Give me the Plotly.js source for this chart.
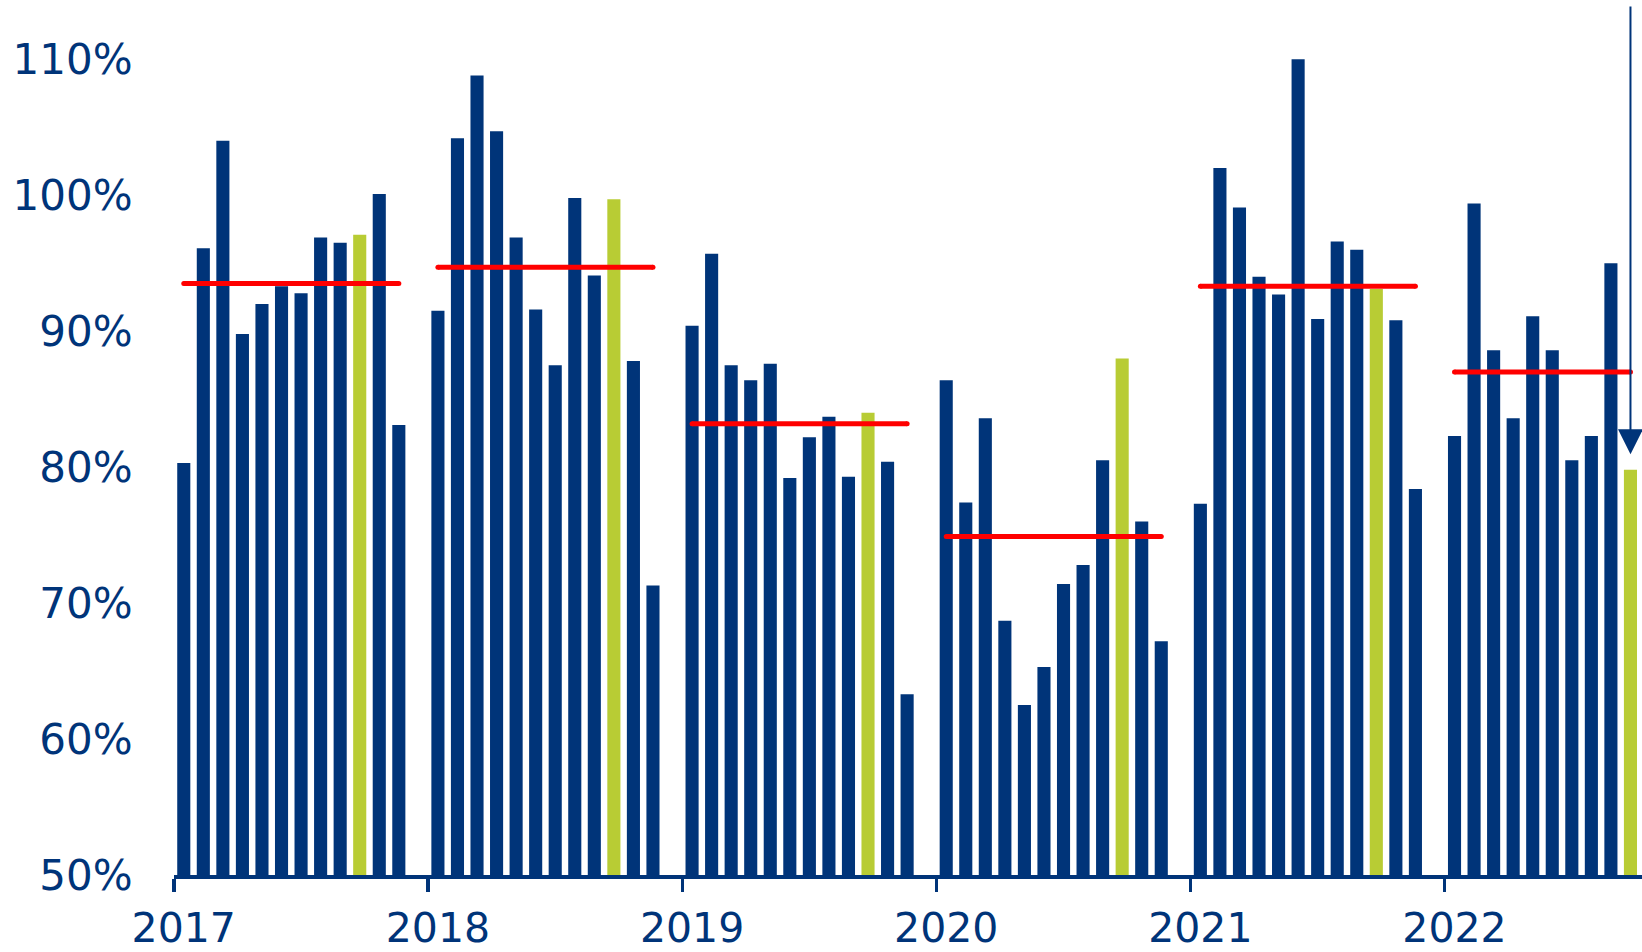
<!DOCTYPE html>
<html>
<head>
<meta charset="utf-8">
<script src="https://cdn.plot.ly/plotly-3.0.1.min.js"></script>
<style>
  html, body { margin: 0; padding: 0; background: #ffffff; }
  #chart { width: 1642px; height: 952px; }
</style>
</head>
<body>
<div id="chart"></div>
<script>
// ---- data ----
const years = ['2017', '2018', '2019', '2020', '2021', '2022'];
const values2017 = [80.3, 96.1, 104.0, 89.8, 92.0, 93.3, 92.8, 96.9, 96.5, 97.1, 100.1, 83.1];
const values2018 = [91.5, 104.2, 108.8, 104.7, 96.9, 91.6, 87.5, 99.8, 94.1, 99.7, 87.8, 71.3];
const values2019 = [90.4, 95.7, 87.5, 86.4, 87.6, 79.2, 82.2, 83.7, 79.3, 84.0, 80.4, 63.3];
const values2020 = [86.4, 77.4, 83.6, 68.7, 62.5, 65.3, 71.4, 72.8, 80.5, 88.0, 76.0, 67.2];
const values2021 = [77.3, 102.0, 99.1, 94.0, 92.7, 110.0, 90.9, 96.6, 96.0, 93.1, 90.8, 78.4];
const values2022 = [82.3, 99.4, 88.6, 83.6, 91.1, 88.6, 80.5, 82.3, 95.0, 79.8];
const yearAverages = [93.5, 94.7, 83.2, 74.9, 93.3, 87.0];
const highlightMonth = 9; // October bars drawn in green
const yTickVals = [50, 60, 70, 80, 90, 100, 110];

// ---- styling ----
const NAVY = '#003479';
const GREEN = '#b8cc34';
const RED = '#ff0000';
const FONT = 'DejaVu Sans, Verdana, sans-serif';
const SLOTS = 13; // 12 months + one empty slot per year
const BASE = 50;

const allYears = [values2017, values2018, values2019, values2020, values2021, values2022];

const barX = [], barY = [], barColor = [];
const avgX = [], avgY = [];
allYears.forEach((vals, yi) => {
  vals.forEach((v, mi) => {
    barX.push(yi * SLOTS + mi + 0.5);
    barY.push(v);
    barColor.push(mi === highlightMonth ? GREEN : NAVY);
  });
  avgX.push(yi * SLOTS + 0.5, yi * SLOTS + vals.length - 0.5, null);
  avgY.push(yearAverages[yi], yearAverages[yi], null);
});

const bars = {
  type: 'bar',
  x: barX,
  y: barY.map(v => v - BASE),
  base: BASE,
  width: 0.67,
  marker: { color: barColor, line: { width: 0 } },
  hoverinfo: 'x+y'
};

const avgLines = {
  type: 'scatter',
  mode: 'lines+markers',
  x: avgX,
  y: avgY,
  line: { color: RED, width: 5 },
  marker: { color: RED, size: 5 },
  connectgaps: false,
  hoverinfo: 'y'
};

const lastX = barX[barX.length - 1];
const lastY = barY[barY.length - 1];

const layout = {
  width: 1642,
  height: 952,
  margin: { l: 174, r: 0, t: 0, b: 77 },
  paper_bgcolor: '#ffffff',
  plot_bgcolor: '#ffffff',
  showlegend: false,
  xaxis: {
    range: [0, 75.09],
    showgrid: false,
    zeroline: false,
    showline: true,
    linecolor: NAVY,
    linewidth: 3.5,
    tickmode: 'array',
    tickvals: years.map((_, i) => i * SLOTS + 0.5),
    ticktext: years,
    ticks: '',
    ticklabelstandoff: 14,
    tickfont: { family: FONT, size: 41, color: NAVY },
    minor: {
      tickmode: 'array',
      tickvals: years.map((_, i) => i * SLOTS),
      ticks: 'outside',
      ticklen: 13,
      tickwidth: 3.5,
      tickcolor: NAVY,
      showgrid: false
    },
    fixedrange: true
  },
  yaxis: {
    range: [BASE, BASE + 875 / 13.595],
    showgrid: false,
    zeroline: false,
    showline: false,
    tickmode: 'array',
    tickvals: yTickVals,
    ticktext: yTickVals.map(v => v + '%'),
    ticks: 'outside',
    ticklen: 32,
    tickcolor: 'rgba(0,0,0,0)',
    tickfont: { family: FONT, size: 42, color: NAVY },
    fixedrange: true
  },
  annotations: [{
    x: lastX,
    y: lastY + 1.15,
    xref: 'x',
    yref: 'y',
    ax: lastX,
    ay: BASE + 870 / 13.595,
    axref: 'x',
    ayref: 'y',
    text: '',
    showarrow: true,
    arrowhead: 2,
    arrowsize: 2.5,
    arrowwidth: 2,
    arrowcolor: NAVY,
    standoff: 0
  }]
};

Plotly.newPlot('chart', [bars, avgLines], layout, { displayModeBar: false, staticPlot: true });
</script>
</body>
</html>
